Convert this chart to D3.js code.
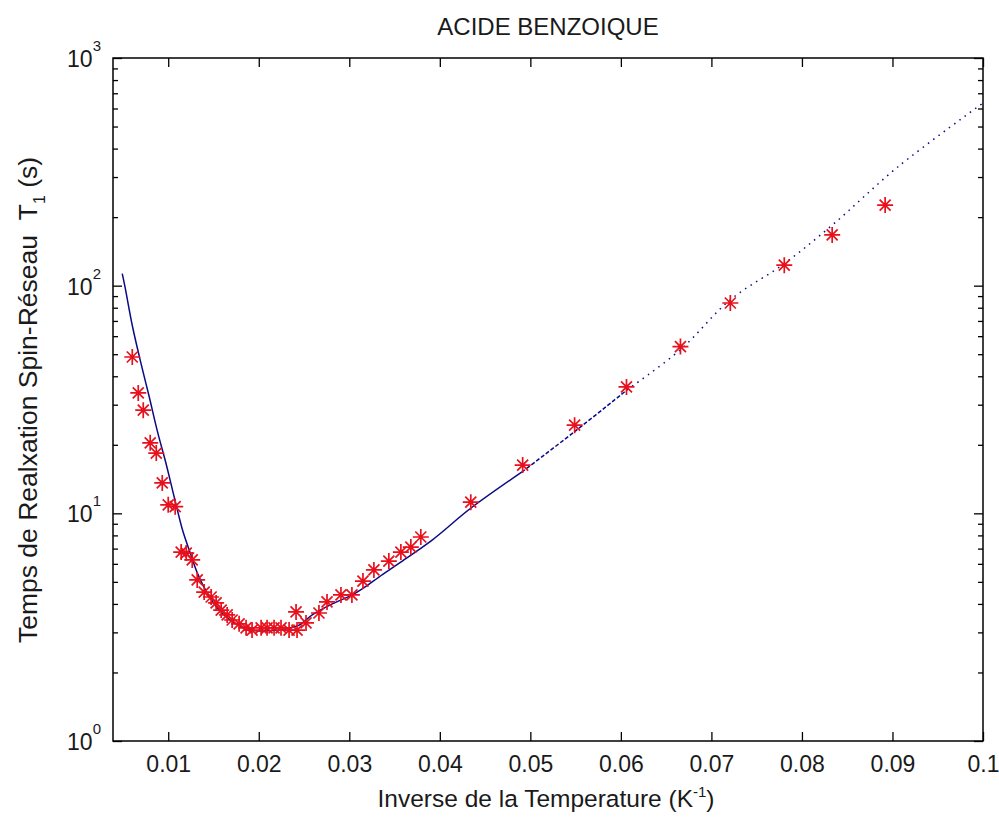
<!DOCTYPE html>
<html>
<head>
<meta charset="utf-8">
<script src="https://cdn.jsdelivr.net/npm/d3@7"></script>
<style>
body { margin: 0; background: #fff; }
text { font-family: "Liberation Sans", Arial, sans-serif; fill: #1a1a1a; }
</style>
</head>
<body>
<svg width="999" height="820"></svg>
<script>
// measured points (1/T, T1)
var invT = [0.00603,0.00669,0.00724,0.00801,0.00868,0.00934,0.0100,0.01077,0.01143,0.01199,
	0.01265,0.0132,0.01397,0.01474,0.01529,0.01585,0.01651,0.01706,0.01783,0.0186,
	0.01926,0.02026,0.02092,0.02169,0.02246,0.02335,0.02412,0.02423,0.02522,0.02665,
	0.02754,0.02908,0.03029,0.03151,0.03272,0.03437,0.0357,0.0368,0.0379,0.04342,
	0.04915,0.05489,0.06062,0.06658,0.07209,0.07805,0.08334,0.08919];
var t1 = [48.6,33.8,28.4,20.4,18.4,13.6,10.9,10.7,6.76,6.69,
	6.24,5.10,4.51,4.29,4.04,3.76,3.58,3.40,3.27,3.14,
	3.07,3.14,3.14,3.14,3.14,3.07,3.69,3.07,3.30,3.65,
	4.08,4.38,4.38,5.04,5.64,6.17,6.76,7.11,7.87,11.2,
	16.3,24.4,35.9,54.0,83.9,123,167,226];

// fitted curve
var fitX = [0.00492,0.0052,0.00606,0.00699,0.0079,0.00882,0.00975,0.01066,0.01158,0.01232,
	0.01323,0.01433,0.01562,0.01709,0.01857,0.01967,0.02114,0.02261,0.02445,0.02591,
	0.02812,0.03033,0.0318,0.03327,0.03548,0.03915,0.04338,0.04908,0.05486,0.06066,
	0.06655,0.07206,0.07805,0.08338,0.09062,0.1];
var fitY = [113,100,66.0,45.6,32.5,22.8,16.6,11.8,8.45,6.90,
	5.45,4.45,3.76,3.34,3.13,3.05,3.05,3.09,3.23,3.58,
	4.00,4.38,4.76,5.25,6.03,7.63,10.5,15.2,22.8,34.8,
	52.2,86.5,125,185,333,634];

var xTicks = [0.01,0.02,0.03,0.04,0.05,0.06,0.07,0.08,0.09,0.1];
var yTicks = [1,10,100,1000];
var yExp = ['0','1','2','3'];

var svg = d3.select('svg');
var pLeft = 113, pRight = 983, pTop = 58, pBottom = 741;

var x = d3.scaleLinear().domain([0.0039, 0.1]).range([pLeft, pRight]);
var y = d3.scaleLog().domain([1, 1000]).range([pBottom, pTop]);

var minor = [];
for (var d = 1; d < 1000; d *= 10) {
	for (var m = 2; m < 10; m++) minor.push(d * m);
}

function styleAxis(g){
	g.select('.domain').remove();
	g.selectAll('line').attr('stroke', '#000').attr('stroke-width', 1.3);
	g.selectAll('text').style('font-family', '"Liberation Sans", Arial, sans-serif')
		.style('font-size', '23px').attr('fill', '#1a1a1a');
}

svg.append('g').attr('transform', 'translate(0,'+pBottom+')')
	.call(d3.axisBottom(x).tickValues(xTicks).tickSize(-9).tickPadding(15)
		.tickFormat(function(v){ return String(+v.toFixed(2)); }))
	.call(styleAxis);
svg.append('g').attr('transform', 'translate(0,'+pTop+')')
	.call(d3.axisTop(x).tickValues(xTicks).tickSize(-9).tickFormat(''))
	.call(styleAxis);

[[pLeft, d3.axisLeft], [pRight, d3.axisRight]].forEach(function(s){
	svg.append('g').attr('transform', 'translate('+s[0]+',0)')
		.call(s[1](y).tickValues(yTicks).tickSize(-9).tickFormat(''))
		.call(styleAxis);
	svg.append('g').attr('transform', 'translate('+s[0]+',0)')
		.call(s[1](y).tickValues(minor).tickSize(-5).tickFormat(''))
		.call(styleAxis);
});

// 10^n labels
yTicks.forEach(function(v, i){
	var t = svg.append('text').attr('x', 101).attr('y', y(v) + 9)
		.attr('text-anchor', 'end').style('font-size', '23px').text('10');
	t.append('tspan').attr('dy', -16).style('font-size', '15px').text(yExp[i]);
});

svg.append('rect').attr('x', pLeft).attr('y', pTop)
	.attr('width', pRight-pLeft).attr('height', pBottom-pTop)
	.attr('fill', 'none').attr('stroke', '#000').attr('stroke-width', 1.5);

// fit curve: solid, then dashed, then dotted
var fit = fitX.map(function(v, i){ return [v, fitY[i]]; });
var line = d3.line().curve(d3.curveCatmullRom)
	.x(function(d){ return x(d[0]); }).y(function(d){ return y(d[1]); });
var parts = [
	[0, 0.0491, null],
	[0.049, 0.0607, '4,2'],
	[0.0606, 1, '1.5,5']
];
parts.forEach(function(p){
	var pts = fit.filter(function(d){ return d[0] >= p[0] && d[0] <= p[1]; });
	svg.append('path').attr('d', line(pts)).attr('fill', 'none')
		.attr('stroke', '#0a0a86').attr('stroke-width', 1.5)
		.attr('stroke-dasharray', p[2]);
});

// red asterisks
svg.append('g').selectAll('path.star')
	.data(invT.map(function(v, i){ return [v, t1[i]]; }))
	.enter().append('path')
	.attr('class', 'star')
	.attr('transform', function(d){ return 'translate('+x(d[0])+','+y(d[1])+')'; })
	.attr('d', 'M-8,0H8M0,-8V8M-5.5,-5.5L5.5,5.5M-5.5,5.5L5.5,-5.5')
	.attr('stroke', '#e8101c').attr('stroke-width', 1.7).attr('fill', 'none');

svg.append('text').attr('x', 548).attr('y', 35).attr('text-anchor', 'middle')
	.style('font-size', '24px').text('ACIDE BENZOIQUE');

var xl = svg.append('text').attr('x', 546).attr('y', 807).attr('text-anchor', 'middle')
	.style('font-size', '24.5px').text('Inverse de la Temperature (K');
xl.append('tspan').attr('dy', -10).style('font-size', '15px').text('-1');
xl.append('tspan').attr('dy', 10).text(')');

var yl = svg.append('text').attr('transform', 'translate(37,400) rotate(-90)')
	.attr('text-anchor', 'middle').style('font-size', '26.5px')
	.text('Temps de Realxation Spin-R\u00e9seau\u00a0\u00a0T');
yl.append('tspan').attr('dy', 8).style('font-size', '16px').text('1');
yl.append('tspan').attr('dy', -8).text('\u00a0(s)');
</script>
</body>
</html>
